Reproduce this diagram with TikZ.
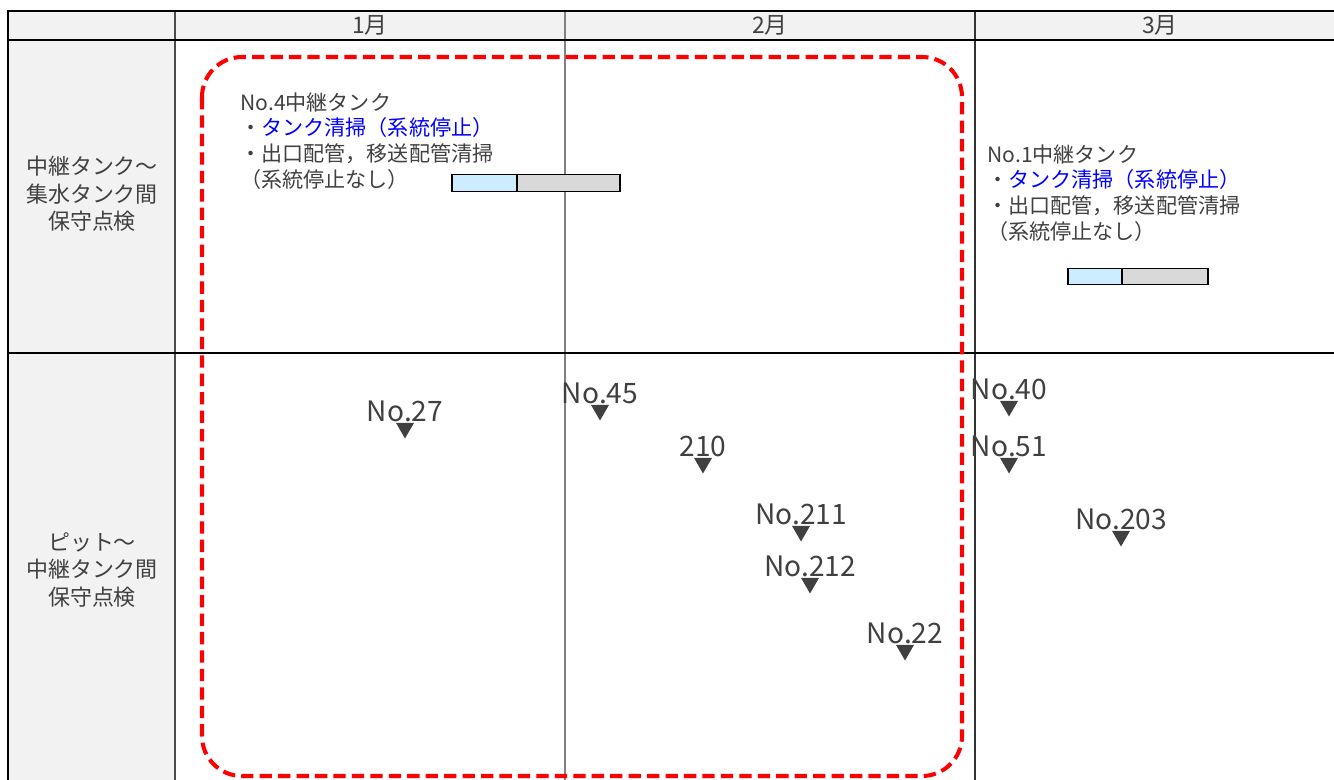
\documentclass[tikz,border=0pt]{standalone}
\usepackage{fontspec}
\setmainfont{Noto Sans CJK JP}
\usetikzlibrary{shapes.geometric, positioning}
\definecolor{inkgray}{HTML}{404040}
\definecolor{cellgray}{HTML}{F2F2F2}
\definecolor{barblue}{HTML}{CCECFF}
\definecolor{bargray}{HTML}{D9D9D9}

\begin{document}
\begin{tikzpicture}[x=0.02cm, y=-0.02cm, text=inkgray,
  font=\fontsize{12}{14.7}\selectfont,
  hdr/.style={font=\fontsize{13}{15}\selectfont, inner sep=0pt},
  rowhdr/.style={align=center, font=\fontsize{12.5}{15.6}\selectfont, inner sep=0pt},
  note/.style={align=left, anchor=north west, inner sep=0pt},
  tag/.style={font=\fontsize{16}{18}\selectfont, inner sep=0pt},
  tri/.style={regular polygon, regular polygon sides=3, shape border rotate=180,
    fill=inkgray, minimum size=0.42cm, inner sep=0pt},
  barpart/.style={draw=black, line width=0.8pt, minimum height=0.33cm, inner sep=0pt, outer sep=0pt},
  thick rule/.style={line width=1.7pt, black}]
\useasboundingbox (0,0) rectangle (1334,780);

% table frame
\fill[cellgray] (8,11) rectangle (1334,40);
\fill[cellgray] (8,40) rectangle (175,780);
\draw[line width=0.7pt, black!70] (175,11) -- (175,780);
\draw[line width=0.7pt, black!50] (565,11) -- (565,780);
\draw[line width=0.7pt, black!80] (975,11) -- (975,780);
\draw[thick rule] (1334,11) -- (8,11) -- (8,780);
\draw[thick rule] (8,40) -- (1334,40);
\draw[thick rule] (8,353) -- (1334,353);

% month headers
\node[hdr] (jan) at (370,25) {1月};
\node[hdr] (feb) at (770,25) {2月};
\node[hdr] (mar) at (1160,25) {3月};

% row headers
\node[rowhdr] (rowtank) at (92,194) {中継タンク～\\集水タンク間\\保守点検};
\node[rowhdr] (rowpit) at (92,570) {ピット～\\中継タンク間\\保守点検};

% tank maintenance notes
\node[note] (tank4) at (240,92) {No.4中継タンク\\・\textcolor{blue}{タンク清掃（系統停止）}\\・出口配管，移送配管清掃\\（系統停止なし）};
\node[note] (tank1) at (987,144) {No.1中継タンク\\・\textcolor{blue}{タンク清掃（系統停止）}\\・出口配管，移送配管清掃\\（系統停止なし）};

% schedule bars
\node[barpart, fill=barblue, minimum width=1.3cm] (bar4a) at (484.5,183) {};
\node[barpart, fill=bargray, minimum width=2.06cm, right=0pt of bar4a] (bar4b) {};
\node[barpart, fill=barblue, minimum width=1.08cm] (bar1a) at (1095,276.5) {};
\node[barpart, fill=bargray, minimum width=1.72cm, right=0pt of bar1a] (bar1b) {};

% pit inspections
\foreach \name/\txt/\x/\y in {p27/No.27/405/428, p45/No.45/600/410, p210/210/703/463,
    p211/No.211/801/531, p212/No.212/810/583, p22/No.22/905/650,
    p40/No.40/1009/406, p51/No.51/1009/463, p203/No.203/1121/536} {
  \node[tri] (\name) at (\x,\y) {};
  \node[tag] (\name-lbl) at (\x,\y-17) {\txt};
}

% highlighted period
\draw[red, line width=2.3pt, dash pattern=on 7pt off 3.5pt, rounded corners=0.8cm]
  (202,57) rectangle (962,776);
\end{tikzpicture}
\end{document}
